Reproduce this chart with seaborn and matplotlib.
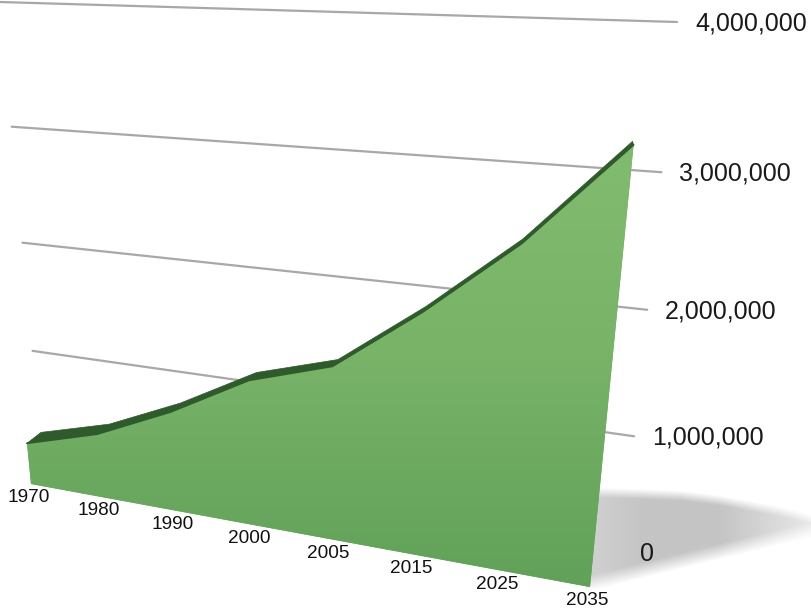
import numpy as np
import pandas as pd
import seaborn as sns
import matplotlib
matplotlib.use("Agg")
import matplotlib.pyplot as plt
from matplotlib.patches import Polygon
from matplotlib.transforms import Transform

YEARS = ["1970", "1980", "1990", "2000", "2005", "2015", "2025", "2035"]
VALUES = [377000, 570000, 870000, 1235000, 1445000, 1950000, 2520000, 3235000]
TICK_VALUES = [0, 1000000, 2000000, 3000000, 4000000]
TICK_LABELS = ["0", "1,000,000", "2,000,000", "3,000,000", "4,000,000"]


class Perspective(Transform):
    # maps (category index, value) to picture pixels, four corners give the plane
    input_dims = 2
    output_dims = 2

    def __init__(self, corners):
        super().__init__()
        src = [(0, 0), (7, 0), (7, 4e6), (0, 4e6)]
        A, b = [], []
        for (x, y), (u, v) in zip(src, corners):
            y = y / 1e6
            A.append([x, y, 1, 0, 0, 0, -u * x, -u * y])
            b.append(u)
            A.append([0, 0, 0, x, y, 1, -v * x, -v * y])
            b.append(v)
        self.h = np.append(np.linalg.solve(np.array(A), np.array(b)), 1).reshape(3, 3)

    def transform_non_affine(self, values):
        values = np.asarray(values, dtype=float)
        p = np.column_stack([values[:, 0], values[:, 1] / 1e6, np.ones(len(values))]) @ self.h.T
        return p[:, :2] / p[:, 2:]


def reset_limits(ax):
    ax.set_xlim(0, 812)
    ax.set_ylim(609, 0)


sns.set_theme(style="white")
plt.rcParams["font.family"] = ["Liberation Sans", "DejaVu Sans"]

fig = plt.figure(figsize=(8.12, 6.09), dpi=100)
ax = fig.add_axes([0, 0, 1, 1])
reset_limits(ax)
ax.axis("off")

front = Perspective([(31, 484), (590, 587), (646, 19), (-18, -16)]) + ax.transData
back = Perspective([(45, 473), (589, 583), (645, 15), (-4, -27)]) + ax.transData
wall = Perspective([(42, 452), (622, 553), (677, 22), (0, 2)]) + ax.transData

df = pd.DataFrame({"year": YEARS, "pos": np.arange(len(YEARS)), "value": VALUES})

# shadow on the floor, only a soft grey wedge
xx, yy = np.meshgrid(np.arange(585, 812), np.arange(480, 600))
top_edge = np.interp(xx, [600, 680, 720, 780, 812], [487, 490, 495, 506, 514])
low_edge = np.interp(xx, [593, 707, 807], [590, 562, 538])
a = np.clip((yy - top_edge) / 10, 0, 1) * np.clip((low_edge - yy) / 16, 0, 1)
a = a * np.clip((850 - xx) / 130, 0, 1) ** 0.8 * np.clip(0.8 + (xx - 590) / 250, 0, 1)
rgba = np.zeros(xx.shape + (4,))
rgba[..., :3] = 0.62
rgba[..., 3] = a * 0.6
ax.imshow(rgba, extent=(585, 812, 600, 480), aspect="auto", zorder=1, interpolation="bilinear")
reset_limits(ax)

# grid lines on the back wall
for v in TICK_VALUES[1:]:
    ax.plot([0, 7], [v, v], transform=wall, color="#a9a7a9", lw=1.6, zorder=2, solid_capstyle="round")

# dark top side of the area
pos = df["pos"].values
val = df["value"].values
edge = np.column_stack([pos, val])
front_px = front.transform(edge)
back_px = back.transform(edge)[::-1]
ax.add_patch(Polygon(ax.transData.inverted().transform(np.vstack([front_px, back_px])),
                     closed=True, color="#2f5a2b", lw=0.5, zorder=3))

# front face, gradient clipped to the shape
face = Polygon(np.vstack([edge, [[7, 0], [0, 0]]]), closed=True,
               transform=front, facecolor="#6aa85f", edgecolor="none", zorder=4)
ax.add_patch(face)
grad = np.linspace(0, 1, 256).reshape(-1, 1)
im = ax.imshow(grad, extent=(0, 812, 609, 100), aspect="auto", zorder=5,
               cmap=matplotlib.colors.LinearSegmentedColormap.from_list(
                   "g", ["#84bd70", "#78b368", "#5f9f57"]))
im.set_clip_path(face)
reset_limits(ax)

sns.lineplot(data=df, x="pos", y="value", ax=ax, transform=front, color="#2f5a2b", lw=1.3,
             errorbar=None, zorder=6)
reset_limits(ax)
ax.axis("off")

for i, year in enumerate(YEARS):
    ax.annotate(year, xy=(i, 0), xycoords=front, xytext=(-2, -10), textcoords="offset points",
                ha="center", va="center", fontsize=13.7, color="#111111", zorder=7)

for v, label in zip(TICK_VALUES, TICK_LABELS):
    ax.annotate(label, xy=(7, v), xycoords=wall, xytext=(13, -1), textcoords="offset points",
                ha="left", va="center", fontsize=18, color="#1a1a1a", zorder=7)

fig.savefig("out.png", dpi=100)
